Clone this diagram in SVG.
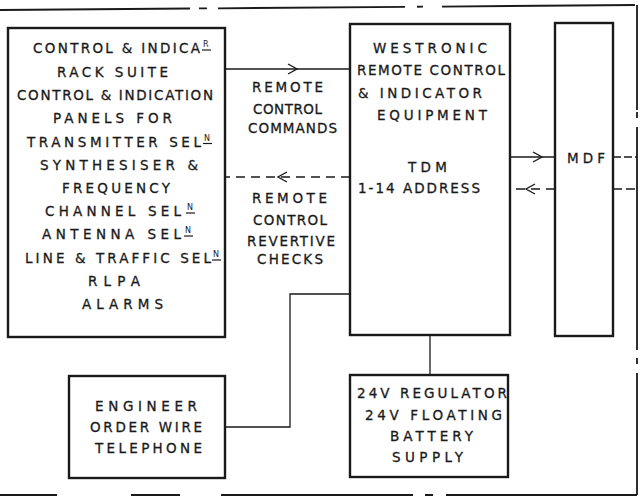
<svg xmlns="http://www.w3.org/2000/svg" width="641" height="497" viewBox="0 0 641 497">
<style>
.box{fill:none;stroke:#1a1a1a;stroke-width:2.4}
.frame{fill:none;stroke:#1a1a1a;stroke-width:1.8}
.wire{fill:none;stroke:#1a1a1a;stroke-width:1.3}
.dash{stroke-dasharray:9 6}
.t{font-family:"DejaVu Sans","Liberation Sans",Arial,sans-serif;font-size:13.5px;fill:#1a1a1a;stroke:#1a1a1a;stroke-width:0.3}
.s{font-family:"DejaVu Sans","Liberation Sans",Arial,sans-serif;font-size:8px;fill:#1a1a1a}
.ul{stroke:#1a1a1a;stroke-width:1.2}
</style>
<defs>
<marker id="chev" markerUnits="userSpaceOnUse" markerWidth="14" markerHeight="14" refX="11" refY="7" orient="auto" overflow="visible">
<path d="M2,2 L11,7 L2,12" fill="none" stroke="#1a1a1a" stroke-width="1.4"/>
</marker>
</defs>
<rect width="641" height="497" fill="#ffffff"/>

<g id="frame">
<line class="frame" x1="0" y1="10" x2="637" y2="5" stroke-dasharray="190 9 8 11 187 12 6 19 193"/>
<line class="frame" x1="637" y1="5" x2="637" y2="495" stroke-dasharray="105 2 6 9 223 8 6 9 122"/>
<line class="frame" x1="0" y1="495" x2="637" y2="495" stroke-dasharray="57 74 49 41 192 12 8 13 191"/>
</g>

<g id="connectors">
<path class="wire" d="M225,69 L297,69 L350,69" marker-mid="url(#chev)"/>
<path class="wire dash" d="M350,177 L278,177 L225,177" marker-mid="url(#chev)"/>
<path class="wire" d="M510,157 L542,157 L555,157" marker-mid="url(#chev)"/>
<path class="wire dash" d="M555,189 L526,189 L510,189" marker-mid="url(#chev)" stroke-dasharray="5 3"/>
<line class="wire" x1="613" y1="157" x2="637" y2="157" stroke-dasharray="8 3"/>
<line class="wire" x1="613" y1="189" x2="637" y2="189" stroke-dasharray="9 4"/>
<polyline class="wire" points="225,427 290,427 290,294 350,294"/>
<line class="wire" x1="430" y1="335" x2="430" y2="375"/>
</g>

<g id="control-indication-rack">
<rect class="box" x="8" y="28" width="217" height="309"/>
<text class="t" x="33" y="53" textLength="167" lengthAdjust="spacing">CONTROL &amp; INDICA</text>
<text class="s" x="203" y="47">R</text><line class="ul" x1="202" y1="50" x2="211" y2="50"/>
<text class="t" x="57" y="76.5" textLength="111" lengthAdjust="spacing">RACK SUITE</text>
<text class="t" x="17" y="100" textLength="196" lengthAdjust="spacing">CONTROL &amp; INDICATION</text>
<text class="t" x="53" y="123" textLength="119" lengthAdjust="spacing">PANELS FOR</text>
<text class="t" x="27" y="146.5" textLength="174" lengthAdjust="spacing">TRANSMITTER SEL</text>
<text class="s" x="204" y="140.5">N</text><line class="ul" x1="203" y1="143.5" x2="212" y2="143.5"/>
<text class="t" x="40" y="170" textLength="158" lengthAdjust="spacing">SYNTHESISER  &amp;</text>
<text class="t" x="62" y="193" textLength="108" lengthAdjust="spacing">FREQUENCY</text>
<text class="t" x="45" y="216" textLength="136" lengthAdjust="spacing">CHANNEL SEL</text>
<text class="s" x="187" y="210">N</text><line class="ul" x1="186" y1="213" x2="195" y2="213"/>
<text class="t" x="42" y="239" textLength="139" lengthAdjust="spacing">ANTENNA SEL</text>
<text class="s" x="185" y="233">N</text><line class="ul" x1="184" y1="236" x2="193" y2="236"/>
<text class="t" x="25" y="263" textLength="186" lengthAdjust="spacing">LINE &amp; TRAFFIC SEL</text>
<text class="s" x="213" y="257">N</text><line class="ul" x1="212" y1="260" x2="221" y2="260"/>
<text class="t" x="88" y="286" textLength="52" lengthAdjust="spacing">RLPA</text>
<text class="t" x="82" y="309" textLength="81" lengthAdjust="spacing">ALARMS</text>
</g>

<g id="westronic">
<rect class="box" x="350" y="24" width="160" height="311"/>
<text class="t" x="373" y="53" textLength="114" lengthAdjust="spacing">WESTRONIC</text>
<text class="t" x="357" y="75" textLength="148" lengthAdjust="spacing">REMOTE CONTROL</text>
<text class="t" x="358" y="98" textLength="124" lengthAdjust="spacing">&amp; INDICATOR</text>
<text class="t" x="377" y="120" textLength="110" lengthAdjust="spacing">EQUIPMENT</text>
<text class="t" x="408" y="172" textLength="39" lengthAdjust="spacing">TDM</text>
<text class="t" x="358" y="193" textLength="122" lengthAdjust="spacing">1-14 ADDRESS</text>
</g>

<g id="label-commands">
<text class="t" x="252" y="92" textLength="71" lengthAdjust="spacing">REMOTE</text>
<text class="t" x="253" y="114" textLength="69" lengthAdjust="spacing">CONTROL</text>
<text class="t" x="248" y="133" textLength="89" lengthAdjust="spacing">COMMANDS</text>
</g>

<g id="label-revertive">
<text class="t" x="252" y="203" textLength="75" lengthAdjust="spacing">REMOTE</text>
<text class="t" x="253" y="225" textLength="74" lengthAdjust="spacing">CONTROL</text>
<text class="t" x="247" y="246" textLength="88" lengthAdjust="spacing">REVERTIVE</text>
<text class="t" x="257" y="264" textLength="66" lengthAdjust="spacing">CHECKS</text>
</g>

<g id="mdf">
<rect class="box" x="555" y="23" width="58" height="313"/>
<text class="t" x="567" y="163" textLength="38" lengthAdjust="spacing">MDF</text>
</g>

<g id="engineer-telephone">
<rect class="box" x="69" y="376" width="156" height="102"/>
<text class="t" x="95" y="411" textLength="102" lengthAdjust="spacing">ENGINEER</text>
<text class="t" x="90" y="432" textLength="112" lengthAdjust="spacing">ORDER WIRE</text>
<text class="t" x="95" y="453" textLength="107" lengthAdjust="spacing">TELEPHONE</text>
</g>

<g id="power-supply">
<rect class="box" x="350" y="375" width="158" height="102"/>
<text class="t" x="357" y="398" textLength="150" lengthAdjust="spacing">24V REGULATOR</text>
<text class="t" x="365" y="420" textLength="137" lengthAdjust="spacing">24V FLOATING</text>
<text class="t" x="390" y="441" textLength="83" lengthAdjust="spacing">BATTERY</text>
<text class="t" x="392" y="462" textLength="71" lengthAdjust="spacing">SUPPLY</text>
</g>
</svg>
